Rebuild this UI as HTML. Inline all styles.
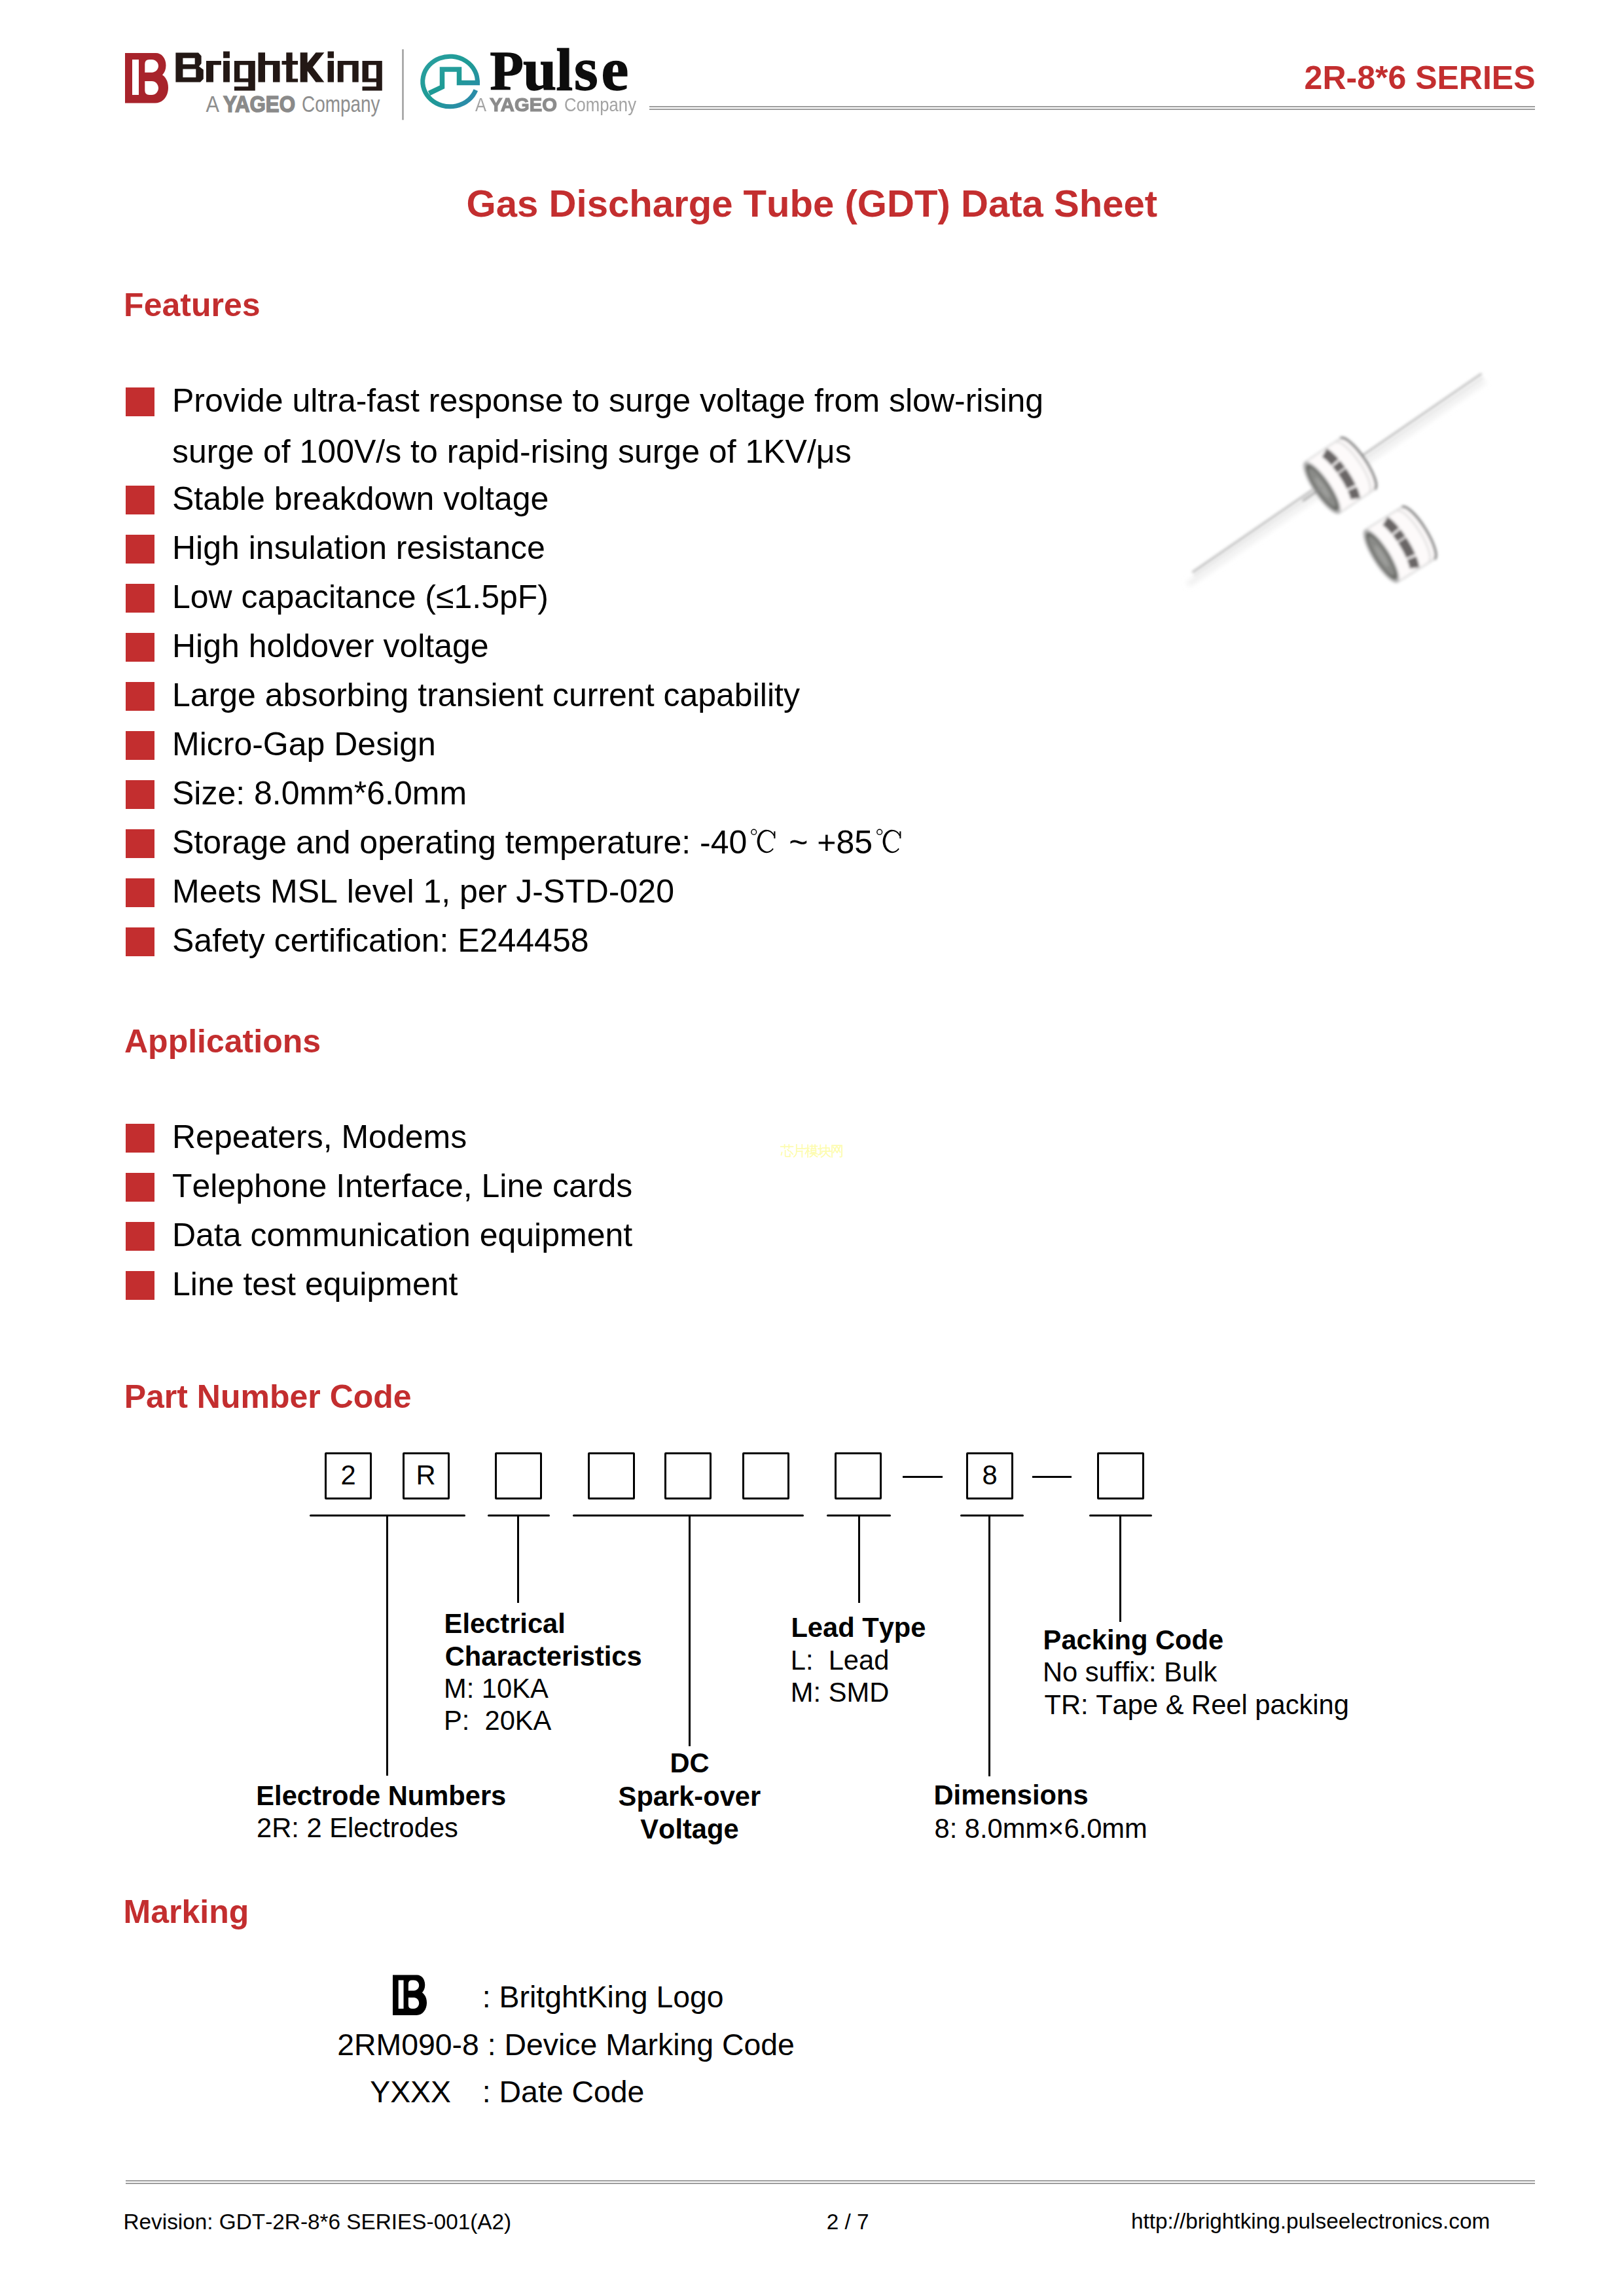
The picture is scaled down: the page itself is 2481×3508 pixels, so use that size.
<!DOCTYPE html>
<html><head><meta charset="utf-8"><title>2R-8*6 SERIES</title>
<style>
html,body{margin:0;padding:0;background:#fff;}
body{width:2481px;height:3508px;position:relative;overflow:hidden;font-family:"Liberation Sans",sans-serif;}
.t{position:absolute;white-space:pre;font-kerning:none;}
.r{position:absolute;}
.box{position:absolute;width:66px;height:66px;border:3px solid #000;border-radius:2px;}
.dc{display:inline-block;vertical-align:baseline;overflow:visible;position:static;}
svg{position:absolute;overflow:visible;}
</style></head>
<body>
<div class="r" style="left:992px;top:161.5px;width:1353px;height:2px;background:#9d9d9d;"></div>
<div class="r" style="left:992px;top:165.5px;width:1353px;height:2px;background:#9d9d9d;"></div>
<div class="t" style="left:1992.6px;top:93.9px;font-size:50px;line-height:50px;color:#c32e2f;font-weight:bold;">2R-8*6 SERIES</div>
<div class="t" style="left:712.6px;top:281.8px;font-size:58.1px;line-height:58.1px;color:#c32e2f;font-weight:bold;">Gas Discharge Tube (GDT) Data Sheet</div>
<div class="t" style="left:189.1px;top:441.0px;font-size:50px;line-height:50px;color:#c32e2f;font-weight:bold;">Features</div>
<div class="r" style="left:192px;top:592px;width:44px;height:44px;background:#c32e2f;"></div>
<div class="t" style="left:263.0px;top:587.3px;font-size:50px;line-height:50px;color:#000;">Provide ultra-fast response to surge voltage from slow-rising</div>
<div class="r" style="left:192px;top:742px;width:44px;height:44px;background:#c32e2f;"></div>
<div class="t" style="left:263.0px;top:737.3px;font-size:50px;line-height:50px;color:#000;">Stable breakdown voltage</div>
<div class="r" style="left:192px;top:817px;width:44px;height:44px;background:#c32e2f;"></div>
<div class="t" style="left:263.0px;top:812.3px;font-size:50px;line-height:50px;color:#000;">High insulation resistance</div>
<div class="r" style="left:192px;top:892px;width:44px;height:44px;background:#c32e2f;"></div>
<div class="t" style="left:263.0px;top:887.3px;font-size:50px;line-height:50px;color:#000;">Low capacitance (≤1.5pF)</div>
<div class="r" style="left:192px;top:967px;width:44px;height:44px;background:#c32e2f;"></div>
<div class="t" style="left:263.0px;top:962.3px;font-size:50px;line-height:50px;color:#000;">High holdover voltage</div>
<div class="r" style="left:192px;top:1042px;width:44px;height:44px;background:#c32e2f;"></div>
<div class="t" style="left:263.0px;top:1037.3px;font-size:50px;line-height:50px;color:#000;">Large absorbing transient current capability</div>
<div class="r" style="left:192px;top:1117px;width:44px;height:44px;background:#c32e2f;"></div>
<div class="t" style="left:263.0px;top:1112.3px;font-size:50px;line-height:50px;color:#000;">Micro-Gap Design</div>
<div class="r" style="left:192px;top:1192px;width:44px;height:44px;background:#c32e2f;"></div>
<div class="t" style="left:263.0px;top:1187.3px;font-size:50px;line-height:50px;color:#000;">Size: 8.0mm*6.0mm</div>
<div class="r" style="left:192px;top:1267px;width:44px;height:44px;background:#c32e2f;"></div>
<div class="t" style="left:263.0px;top:1262.3px;font-size:50px;line-height:50px;color:#000;">Storage and operating temperature: -40<svg class="dc" width="50" height="40" viewBox="0 0 50 40"><circle cx="10.7" cy="7.2" r="3.9" fill="none" stroke="#000" stroke-width="1.45"/><path d="M42.6,12.9 L41.5,10.8 L40.2,9.0 L38.6,7.3 L37.0,6.0 L35.1,5.0 L33.2,4.2 L31.2,3.9 L29.2,3.8 L27.2,4.1 L25.2,4.8 L23.4,5.8 L21.7,7.1 L20.1,8.6 L18.7,10.5 L17.6,12.5 L16.7,14.7 L16.1,17.1 L15.7,19.5 L15.6,22.0 L15.8,24.4 L16.3,26.8 L17.0,29.2 L18.0,31.3 L19.2,33.3 L20.7,35.0 L22.3,36.5 L24.1,37.6 L26.0,38.5 L27.9,39.0 L30.0,39.2 L32.0,39.0 L33.9,38.5 L35.8,37.7 L37.6,36.5 L39.3,35.1 L40.7,33.3 L39.5,31.8 L38.4,33.3 L37.1,34.6 L35.7,35.6 L34.2,36.3 L32.6,36.7 L31.0,36.9 L29.4,36.8 L27.9,36.3 L26.4,35.6 L25.0,34.6 L23.7,33.3 L22.5,31.9 L21.5,30.2 L20.7,28.3 L20.1,26.4 L19.7,24.3 L19.5,22.2 L19.6,20.0 L19.8,17.9 L20.3,15.9 L21.0,13.9 L21.9,12.1 L22.9,10.5 L24.1,9.1 L25.5,8.0 L26.9,7.1 L28.5,6.5 L30.0,6.2 L31.6,6.1 L33.2,6.4 L34.8,7.0 L36.2,7.8 L37.6,8.9 L38.9,10.2 L39.9,11.8 L40.9,13.6 Z" fill="#000"/><rect x="41.3" y="6.2" width="2.1" height="10.8" fill="#000"/></svg> ~ +85<svg class="dc" width="50" height="40" viewBox="0 0 50 40"><circle cx="10.7" cy="7.2" r="3.9" fill="none" stroke="#000" stroke-width="1.45"/><path d="M42.6,12.9 L41.5,10.8 L40.2,9.0 L38.6,7.3 L37.0,6.0 L35.1,5.0 L33.2,4.2 L31.2,3.9 L29.2,3.8 L27.2,4.1 L25.2,4.8 L23.4,5.8 L21.7,7.1 L20.1,8.6 L18.7,10.5 L17.6,12.5 L16.7,14.7 L16.1,17.1 L15.7,19.5 L15.6,22.0 L15.8,24.4 L16.3,26.8 L17.0,29.2 L18.0,31.3 L19.2,33.3 L20.7,35.0 L22.3,36.5 L24.1,37.6 L26.0,38.5 L27.9,39.0 L30.0,39.2 L32.0,39.0 L33.9,38.5 L35.8,37.7 L37.6,36.5 L39.3,35.1 L40.7,33.3 L39.5,31.8 L38.4,33.3 L37.1,34.6 L35.7,35.6 L34.2,36.3 L32.6,36.7 L31.0,36.9 L29.4,36.8 L27.9,36.3 L26.4,35.6 L25.0,34.6 L23.7,33.3 L22.5,31.9 L21.5,30.2 L20.7,28.3 L20.1,26.4 L19.7,24.3 L19.5,22.2 L19.6,20.0 L19.8,17.9 L20.3,15.9 L21.0,13.9 L21.9,12.1 L22.9,10.5 L24.1,9.1 L25.5,8.0 L26.9,7.1 L28.5,6.5 L30.0,6.2 L31.6,6.1 L33.2,6.4 L34.8,7.0 L36.2,7.8 L37.6,8.9 L38.9,10.2 L39.9,11.8 L40.9,13.6 Z" fill="#000"/><rect x="41.3" y="6.2" width="2.1" height="10.8" fill="#000"/></svg></div>
<div class="r" style="left:192px;top:1342px;width:44px;height:44px;background:#c32e2f;"></div>
<div class="t" style="left:263.0px;top:1337.3px;font-size:50px;line-height:50px;color:#000;">Meets MSL level 1, per J-STD-020</div>
<div class="r" style="left:192px;top:1417px;width:44px;height:44px;background:#c32e2f;"></div>
<div class="t" style="left:263.0px;top:1412.3px;font-size:50px;line-height:50px;color:#000;">Safety certification: E244458</div>
<div class="t" style="left:263.0px;top:665.0px;font-size:50px;line-height:50px;color:#000;">surge of 100V/s to rapid-rising surge of 1KV/μs</div>
<div class="t" style="left:190.0px;top:1566.2px;font-size:50px;line-height:50px;color:#c32e2f;font-weight:bold;">Applications</div>
<div class="r" style="left:192px;top:1717.2px;width:44px;height:44px;background:#c32e2f;"></div>
<div class="t" style="left:263.0px;top:1712.3px;font-size:50px;line-height:50px;color:#000;">Repeaters, Modems</div>
<div class="r" style="left:192px;top:1792.2px;width:44px;height:44px;background:#c32e2f;"></div>
<div class="t" style="left:263.0px;top:1787.3px;font-size:50px;line-height:50px;color:#000;">Telephone Interface, Line cards</div>
<div class="r" style="left:192px;top:1867.2px;width:44px;height:44px;background:#c32e2f;"></div>
<div class="t" style="left:263.0px;top:1862.3px;font-size:50px;line-height:50px;color:#000;">Data communication equipment</div>
<div class="r" style="left:192px;top:1942.2px;width:44px;height:44px;background:#c32e2f;"></div>
<div class="t" style="left:263.0px;top:1937.3px;font-size:50px;line-height:50px;color:#000;">Line test equipment</div>
<div class="t" style="left:189.7px;top:2109.3px;font-size:50px;line-height:50px;color:#c32e2f;font-weight:bold;">Part Number Code</div>
<div class="box" style="left:496px;top:2219px"></div>
<div class="t" style="left:520.4px;top:2232.7px;font-size:41.7px;line-height:41.7px;color:#000;">2</div>
<div class="box" style="left:614.5px;top:2219px"></div>
<div class="t" style="left:635.4px;top:2232.7px;font-size:41.7px;line-height:41.7px;color:#000;">R</div>
<div class="box" style="left:756px;top:2219px"></div>
<div class="box" style="left:897.5px;top:2219px"></div>
<div class="box" style="left:1014.5px;top:2219px"></div>
<div class="box" style="left:1133.5px;top:2219px"></div>
<div class="box" style="left:1275px;top:2219px"></div>
<div class="box" style="left:1476px;top:2219px"></div>
<div class="t" style="left:1500.4px;top:2232.7px;font-size:41.7px;line-height:41.7px;color:#000;">8</div>
<div class="box" style="left:1675.5px;top:2219px"></div>
<div class="r" style="left:1379px;top:2254.5px;width:61px;height:3px;background:#000;"></div>
<div class="r" style="left:1576.5px;top:2254.5px;width:60.5px;height:3px;background:#000;"></div>
<div class="r" style="left:472.6px;top:2313.7px;width:238.0px;height:3px;background:#000;border-radius:1.5px;"></div>
<div class="r" style="left:589.8px;top:2314px;width:3px;height:399px;background:#000;"></div>
<div class="r" style="left:744.5px;top:2313.7px;width:95.79999999999995px;height:3px;background:#000;border-radius:1.5px;"></div>
<div class="r" style="left:790.3px;top:2314px;width:3px;height:135px;background:#000;"></div>
<div class="r" style="left:874.6px;top:2313.7px;width:353.1px;height:3px;background:#000;border-radius:1.5px;"></div>
<div class="r" style="left:1052.0px;top:2314px;width:3px;height:353.5999999999999px;background:#000;"></div>
<div class="r" style="left:1263.3px;top:2313.7px;width:97.90000000000009px;height:3px;background:#000;border-radius:1.5px;"></div>
<div class="r" style="left:1311.0px;top:2314px;width:3px;height:135px;background:#000;"></div>
<div class="r" style="left:1467px;top:2313.7px;width:96.5px;height:3px;background:#000;border-radius:1.5px;"></div>
<div class="r" style="left:1510.1px;top:2314px;width:3px;height:399.5px;background:#000;"></div>
<div class="r" style="left:1664.2px;top:2313.7px;width:95.79999999999995px;height:3px;background:#000;border-radius:1.5px;"></div>
<div class="r" style="left:1710.1px;top:2314px;width:3px;height:164.4000000000001px;background:#000;"></div>
<div class="t" style="left:678.6px;top:2460.1px;font-size:41.67px;line-height:41.67px;color:#000;font-weight:bold;">Electrical</div>
<div class="t" style="left:679.7px;top:2509.6px;font-size:41.67px;line-height:41.67px;color:#000;font-weight:bold;">Characteristics</div>
<div class="t" style="left:678.0px;top:2559.1px;font-size:41.67px;line-height:41.67px;color:#000;">M: 10KA</div>
<div class="t" style="left:678.0px;top:2608.0px;font-size:41.67px;line-height:41.67px;color:#000;">P:  20KA</div>
<div class="t" style="left:391.3px;top:2723.2px;font-size:41.67px;line-height:41.67px;color:#000;font-weight:bold;">Electrode Numbers</div>
<div class="t" style="left:392.0px;top:2772.1px;font-size:41.67px;line-height:41.67px;color:#000;">2R: 2 Electrodes</div>
<div class="t" style="left:1023.4px;top:2672.7px;font-size:41.67px;line-height:41.67px;color:#000;font-weight:bold;">DC</div>
<div class="t" style="left:944.6px;top:2724.2px;font-size:41.67px;line-height:41.67px;color:#000;font-weight:bold;">Spark-over</div>
<div class="t" style="left:978.2px;top:2773.7px;font-size:41.67px;line-height:41.67px;color:#000;font-weight:bold;">Voltage</div>
<div class="t" style="left:1208.4px;top:2465.8px;font-size:41.67px;line-height:41.67px;color:#000;font-weight:bold;">Lead Type</div>
<div class="t" style="left:1207.8px;top:2515.7px;font-size:41.67px;line-height:41.67px;color:#000;">L:  Lead</div>
<div class="t" style="left:1207.8px;top:2564.9px;font-size:41.67px;line-height:41.67px;color:#000;">M: SMD</div>
<div class="t" style="left:1593.6px;top:2484.5px;font-size:41.67px;line-height:41.67px;color:#000;font-weight:bold;">Packing Code</div>
<div class="t" style="left:1593.0px;top:2533.8px;font-size:41.67px;line-height:41.67px;color:#000;">No suffix: Bulk</div>
<div class="t" style="left:1595.5px;top:2583.6px;font-size:41.67px;line-height:41.67px;color:#000;">TR: Tape &amp; Reel packing</div>
<div class="t" style="left:1426.5px;top:2722.4px;font-size:41.67px;line-height:41.67px;color:#000;font-weight:bold;">Dimensions</div>
<div class="t" style="left:1427.5px;top:2772.9px;font-size:41.67px;line-height:41.67px;color:#000;">8: 8.0mm×6.0mm</div>
<div class="t" style="left:188.6px;top:2896.2px;font-size:50px;line-height:50px;color:#c32e2f;font-weight:bold;">Marking</div>
<div class="t" style="left:736.8px;top:3027.7px;font-size:46.4px;line-height:46.4px;color:#000;">: BritghtKing Logo</div>
<div class="t" style="left:515.2px;top:3100.9px;font-size:46.4px;line-height:46.4px;color:#000;">2RM090-8 : Device Marking Code</div>
<div class="t" style="left:565.2px;top:3173.0px;font-size:46.4px;line-height:46.4px;color:#000;">YXXX</div>
<div class="t" style="left:736.8px;top:3173.0px;font-size:46.4px;line-height:46.4px;color:#000;">: Date Code</div>
<div class="r" style="left:192px;top:3331px;width:2153px;height:2px;background:#9d9d9d;"></div>
<div class="r" style="left:192px;top:3335px;width:2153px;height:2px;background:#9d9d9d;"></div>
<div class="t" style="left:188.5px;top:3377.8px;font-size:33.33px;line-height:33.33px;color:#000;">Revision: GDT-2R-8*6 SERIES-001(A2)</div>
<div class="t" style="left:1262.7px;top:3377.8px;font-size:33.33px;line-height:33.33px;color:#000;">2 / 7</div>
<div class="t" style="left:1727.9px;top:3377.3px;font-size:33.33px;line-height:33.33px;color:#000;">http://brightking.pulseelectronics.com</div>
<svg style="left:0;top:0" width="1000" height="200" viewBox="0 0 1000 200">
<path transform="translate(191,81)" fill="#a8232b" fill-rule="evenodd" d="M0,0 H47 C56,0 62.5,8 62.5,19 C62.5,25 60.5,30 57,33.5 C62.5,37 66,44 66,53 C66,66 58,76.5 46,76.5 H0 Z M11,10 H21 V64 H11 Z M30.3,29.7 V17 Q30.3,10 37,10 H41 C46.5,10 51,14.4 51,19.85 C51,25.3 46.5,29.7 41,29.7 Z M30.3,43 H41 C46.5,43 51,47.7 51,53.5 C51,59.3 46.5,64 41,64 H37 Q30.3,64 30.3,57 Z"/>
<path fill="#231815" fill-rule="evenodd" d="M268.4,80.5 H303 L307.6,85.5 V97 L304,101.5 L310.8,106.5 V120.5 L306,125.5 H268.4 Z M279.4,88.8 V98.3 H297.7 V88.8 Z M279.4,105.6 V118.2 H299.3 V105.6 Z M315,93 H338 V99.3 H326 V125.5 H315 Z M341.1,78.4 H350.9 V88.8 H341.1 Z M341.1,93 H350.9 V125.5 H341.1 Z M357.9,93 H389.8 V138.6 H357.9 V132.3 H379.3 V125.5 H357.9 Z M366.3,99.3 V119.7 H379.3 V99.3 Z M394.5,80.2 H405 V93 H427.5 V125.5 H417 V99.3 H405 V125.5 H394.5 Z M437.3,80.2 H446.7 V93 H455.1 V98.8 H446.7 V120.2 H455.1 V125.5 H437.3 V98.8 H430.5 V93 H437.3 Z M458.7,80.2 H469.7 V125.5 H458.7 Z M469.7,96 L482.5,80.2 H495.4 L477.8,102.5 L495.4,125.5 H482.5 L469.7,108.5 Z M500.6,78.4 H510 V88.8 H500.6 Z M500.6,93 H510 V125.5 H500.6 Z M515.8,93 H547.7 V125.5 H538.3 V99.3 H524.7 V125.5 H515.8 Z M553.5,93 H583.8 V138.6 H553.5 V132.3 H574.9 V125.5 H553.5 Z M562.9,99.3 V119.7 H574.9 V99.3 Z"/>
<text x="314.5" y="171.2" font-family="Liberation Sans" font-size="35" fill="#8e8e8e" textLength="20.5" lengthAdjust="spacingAndGlyphs">A</text>
<text x="341" y="171.2" font-family="Liberation Sans" font-weight="bold" font-size="35" fill="#8a8a8a" stroke="#8a8a8a" stroke-width="1.6" textLength="110" lengthAdjust="spacingAndGlyphs">YAGEO</text>
<text x="461" y="171.2" font-family="Liberation Sans" font-size="35" fill="#8e8e8e" textLength="119.5" lengthAdjust="spacingAndGlyphs">Company</text>
<rect x="614.3" y="75.3" width="2.4" height="108" fill="#9a9a9a"/>
<defs><linearGradient id="pg" x1="0" y1="0" x2="1" y2="1"><stop offset="0" stop-color="#2a9fa0"/><stop offset="0.5" stop-color="#1e9b95"/><stop offset="1" stop-color="#2f86b0"/></linearGradient></defs>
<g fill="none" stroke="url(#pg)" stroke-width="7" stroke-linejoin="miter">
<path d="M729.3,125.8 A41.8,38.3 0 1 0 726.8,137.6"/>
<path d="M655.5,142.5 L675.5,133 V106 H701.5 V126.5 H733" stroke-width="7.5"/>
</g>
<text y="136.6" font-family="Liberation Serif" font-weight="bold" fill="#0d0d0d" stroke="#0d0d0d" stroke-width="1.4"><tspan x="748.5" font-size="84">P</tspan><tspan x="799" font-size="92">u</tspan><tspan x="849.5" font-size="92" dy="0">l</tspan><tspan x="877" font-size="94">s</tspan><tspan x="918.5" font-size="94">e</tspan></text>
<defs><filter id="pb" x="-5%" y="-20%" width="110%" height="140%"><feGaussianBlur stdDeviation="0.7"/></filter></defs>
<g filter="url(#pb)"><text x="726" y="169.7" font-family="Liberation Sans" font-size="30" fill="#a3a3a3" textLength="17" lengthAdjust="spacingAndGlyphs">A</text><text x="748" y="169.7" font-family="Liberation Sans" font-weight="bold" font-size="30" fill="#8c8c8c" stroke="#8c8c8c" stroke-width="1.2" textLength="103" lengthAdjust="spacingAndGlyphs">YAGEO</text><text x="862" y="169.7" font-family="Liberation Sans" font-size="30" fill="#a3a3a3" textLength="110" lengthAdjust="spacingAndGlyphs">Company</text></g>
</svg>
<svg style="left:0;top:0" width="2481" height="1000" viewBox="0 0 2481 1000">
<defs><filter id="bl" x="-10%" y="-10%" width="120%" height="120%"><feGaussianBlur stdDeviation="2"/></filter><filter id="bl2" x="-10%" y="-10%" width="120%" height="120%"><feGaussianBlur stdDeviation="4"/></filter></defs>
<line x1="1815" y1="893" x2="2268" y2="582" stroke="#ececec" stroke-width="7" filter="url(#bl2)"/>
<g filter="url(#bl)">
<line x1="1824" y1="880" x2="2266" y2="577" stroke="#dedede" stroke-width="2.5"/>
<line x1="1821.6" y1="874.6" x2="2263.5" y2="571" stroke="#a8a8a8" stroke-width="2.6"/>
<path d="M1993.7,706.0 L2047.6,669.7 A47,13 56.0 0 1 2100.2,747.6 L2046.3,784.0 A47,13 56.0 0 1 1993.7,706.0 Z" fill="#fdfafa" stroke="#dadada" stroke-width="2.5"/>
<path d="M2047.6,669.7 A47,13 56.0 0 1 2100.2,747.6" fill="none" stroke="#6d6d6d" stroke-width="3.5"/>
<path d="M2040.8,675.9 A45.6,13 56.0 0 1 2091.8,751.5" fill="none" stroke="#e2e0e0" stroke-width="3"/>
<path d="M2023.3,691.8 A47,11.7 56.0 0 1 2070.6,761.9" fill="none" stroke="#4a4545" stroke-width="15" stroke-dasharray="22 3 12 2 28 3 16 2 20" opacity="0.82"/>
<ellipse cx="2020.0" cy="745.0" rx="47.0" ry="13.0" transform="rotate(56.0 2020.0 745.0)" fill="#b4b4b4" />
<ellipse cx="2020.0" cy="745.0" rx="42.3" ry="10.9" transform="rotate(56.0 2020.0 745.0)" fill="#6c6d69" />
<ellipse cx="2020.0" cy="745.0" rx="34.8" ry="7.8" transform="rotate(56.0 2020.0 745.0)" fill="#8a8b88" />
<ellipse cx="2020.0" cy="745.0" rx="18.8" ry="3.9" transform="rotate(56.0 2020.0 745.0)" fill="#9d9e9b" />
<path d="M2085.6,809.6 L2141.6,774.7 A47,13 58.0 0 1 2191.4,854.4 L2135.4,889.4 A47,13 58.0 0 1 2085.6,809.6 Z" fill="#fdfafa" stroke="#dadada" stroke-width="2.5"/>
<path d="M2141.6,774.7 A47,13 58.0 0 1 2191.4,854.4" fill="none" stroke="#6d6d6d" stroke-width="3.5"/>
<path d="M2134.5,780.8 A45.6,13 58.0 0 1 2182.8,858.1" fill="none" stroke="#e2e0e0" stroke-width="3"/>
<path d="M2116.1,796.1 A47,11.7 58.0 0 1 2160.9,867.9" fill="none" stroke="#4a4545" stroke-width="15" stroke-dasharray="22 3 12 2 28 3 16 2 20" opacity="0.82"/>
<ellipse cx="2110.5" cy="849.5" rx="47.0" ry="13.0" transform="rotate(58.0 2110.5 849.5)" fill="#b4b4b4" />
<ellipse cx="2110.5" cy="849.5" rx="42.3" ry="10.9" transform="rotate(58.0 2110.5 849.5)" fill="#6c6d69" />
<ellipse cx="2110.5" cy="849.5" rx="34.8" ry="7.8" transform="rotate(58.0 2110.5 849.5)" fill="#8a8b88" />
<ellipse cx="2110.5" cy="849.5" rx="18.8" ry="3.9" transform="rotate(58.0 2110.5 849.5)" fill="#9d9e9b" />
<line x1="1990" y1="765.5" x2="2020" y2="745" stroke="#8e8e8e" stroke-width="2.6"/>
</g>
</svg>
<svg style="left:0;top:0" width="700" height="3100" viewBox="0 0 700 3100"><path transform="translate(600,3017.5) scale(0.788,0.804)" fill="#000" fill-rule="evenodd" d="M0,0 H47 C56,0 62.5,8 62.5,19 C62.5,25 60.5,30 57,33.5 C62.5,37 66,44 66,53 C66,66 58,76.5 46,76.5 H0 Z M11,10 H21 V64 H11 Z M30.3,29.7 V17 Q30.3,10 37,10 H41 C46.5,10 51,14.4 51,19.85 C51,25.3 46.5,29.7 41,29.7 Z M30.3,43 H41 C46.5,43 51,47.7 51,53.5 C51,59.3 46.5,64 41,64 H37 Q30.3,64 30.3,57 Z"/></svg>
<svg style="left:0;top:0" width="1300" height="1800" viewBox="0 0 1300 1800"><g fill="none" stroke="#fdfcb0" stroke-width="1.8" stroke-linecap="square"><g transform="translate(1192.8,1749)"><path d="M0,2.8 H18.6"/><path d="M5.8,0 V5.5"/><path d="M12.5,0 V5.5"/><path d="M1.7,11.6 L0.7,15.7"/><path d="M6.8,9 V16.5 Q6.8,18.1 8.5,18.1 H13.9 V14.4"/><path d="M10.5,7.6 L12.5,9.6"/><path d="M14.6,10.3 L18.3,14.4"/></g><g transform="translate(1211.5,1749)"><path d="M5.3,0 V11 Q5.3,15.5 1.3,18.4"/><path d="M13.8,0 V5.9"/><path d="M13.8,9.6 V18.6"/><path d="M5.3,5.9 H18.2"/><path d="M5.3,10 H14"/></g><g transform="translate(1230.5,1749)"><path d="M0.2,5.5 H5.6"/><path d="M3.6,0.5 V18.8"/><path d="M3.6,6.9 L-0.1,13.7"/><path d="M3.8,8 L5.8,10.5"/><path d="M6.9,2.4 H17.8"/><path d="M9.9,0.2 V4"/><path d="M14.6,0.2 V4"/><path d="M8.7,5.8 H15.8 V11.8 H8.7 Z"/><path d="M8.7,8.8 H15.8"/><path d="M6.9,13.7 H17.8"/><path d="M12.5,12 Q11.5,16.5 6.9,18.6"/><path d="M12.5,13.9 Q14.5,17 17.9,18.4"/></g><g transform="translate(1249.5,1749)"><path d="M0.4,6.2 H5.5"/><path d="M3.8,0.5 V15"/><path d="M0.4,15.5 L6.2,12.3"/><path d="M12.2,0.5 V12.3"/><path d="M6.8,4.9 H17.3 V9.5"/><path d="M5.8,10 H19.7"/><path d="M12.2,11 Q10.5,16.5 5.2,18.8"/><path d="M12.2,12.5 Q14.5,16.5 18.8,18.5"/></g><g transform="translate(1268.2,1749)"><path d="M2.8,18.8 V1.1 H17.8 V17.5 Q17.8,18.8 15.2,18.5"/><path d="M4.9,3.5 L10,11.3"/><path d="M9.7,2.8 L4.9,12"/><path d="M11.1,3.5 L15.2,11.3"/><path d="M15.2,2.8 L10.8,12"/></g></g></svg>
</body></html>
